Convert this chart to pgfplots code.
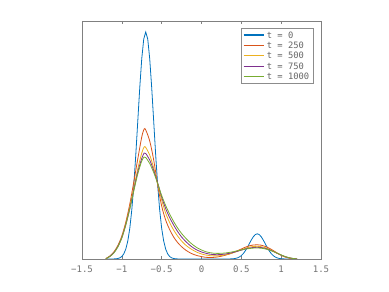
\documentclass[border=0pt]{standalone}
\usepackage{fontspec}
\setmonofont{DejaVu Sans Mono}
\usepackage{pgfplots}
\usepackage{pgfplotstable}
\pgfplotsset{compat=1.18}
\definecolor{mb}{rgb}{0,0.447,0.741}
\definecolor{mo}{rgb}{0.85,0.325,0.098}
\definecolor{my}{rgb}{0.929,0.694,0.125}
\definecolor{mp}{rgb}{0.494,0.184,0.556}
\definecolor{mg}{rgb}{0.466,0.674,0.188}
\definecolor{ax}{gray}{0.5}
\pgfplotstableread{
x blue
-1.2 0
-1.125 0
-1.1 0.08
-1.075 0.2
-1.05 0.5
-1.025 1.16
-1.0 2.5
-0.975 5.2
-0.95 10
-0.925 18.1
-0.9 30.7
-0.875 49.1
-0.85 73.7
-0.825 103.9
-0.8 137.7
-0.775 171.3
-0.75 200.3
-0.725 220
-0.7 227
-0.675 220
-0.65 200.3
-0.625 171.3
-0.6 137.7
-0.575 103.9
-0.55 73.7
-0.525 49.1
-0.5 30.7
-0.475 18.1
-0.45 10
-0.425 5.2
-0.4 2.5
-0.375 1.16
-0.35 0.5
-0.325 0.2
-0.3 0.08
-0.275 0
0.325 0
0.35 0.06
0.375 0.13
0.4 0.28
0.425 0.57
0.45 1.1
0.475 2.0
0.5 3.41
0.525 5.45
0.55 8.2
0.575 11.5
0.6 15.3
0.625 19.0
0.65 22.2
0.675 24.4
0.7 25.2
0.725 24.4
0.75 22.2
0.775 19.0
0.8 15.3
0.825 11.5
0.85 8.2
0.875 5.45
0.9 3.41
0.925 2.0
0.95 1.1
0.975 0.57
1.0 0.28
1.025 0.13
1.05 0.06
1.075 0
1.2 0
}\tzero
\pgfplotstableread{
x o y p g
-1.2 0.4 0.4 0.3 0.3
-1.15 3 2.8 2.6 2.5
-1.1 7 6.8 6.4 6
-1.05 13.5 13 12.5 12
-1.0 23 22 21.5 21
-0.95 37 35.5 34.5 34
-0.9 55 52 50.5 50
-0.85 77 71 69 68
-0.8 100 90 87 85
-0.75 122 106 100.5 98
-0.72 130 112 106 102
-0.7 129 111.5 105.5 101.5
-0.65 118 104 99 95.5
-0.6 99 91 88.5 86.5
-0.55 74 75 76 75.5
-0.5 53 59 62 63.5
-0.45 39 46 50.5 53.5
-0.4 29.5 36.5 41.5 45
-0.35 22 29 34 37.5
-0.3 16.5 23 27.5 31
-0.25 12.3 18 22 25.5
-0.2 9 14 17.7 21
-0.15 6.5 11 14 17
-0.1 4.6 8.5 11 13.7
-0.05 3.3 6.5 8.7 11
0 2.4 5 7 9
0.05 1.7 4 5.8 7.4
0.1 1.5 3.4 4.9 6.4
0.15 1.6 3.1 4.4 5.8
0.2 2 3.1 4.3 5.6
0.25 2.8 3.5 4.5 5.7
0.3 3.8 4.2 5 6
0.35 5 5.1 5.7 6.6
0.4 6.5 6.3 6.6 7.3
0.45 8.2 7.7 7.7 8.2
0.5 10 9.2 8.9 9.1
0.55 11.8 10.6 10 9.9
0.6 13.2 11.8 10.9 10.5
0.65 14 12.5 11.5 10.9
0.7 14.2 12.7 11.7 11
0.75 13.8 12.3 11.4 10.8
0.8 12.6 11.3 10.6 10.1
0.85 10.8 9.8 9.3 9
0.9 8.5 7.8 7.6 7.5
0.95 6 5.7 5.7 5.8
1.0 3.8 3.7 3.9 4.1
1.05 2 2.1 2.3 2.5
1.1 0.9 1 1.2 1.3
1.15 0.3 0.4 0.5 0.5
1.2 0 0 0 0
}\tlater
\begin{document}
\begin{tikzpicture}
\path[use as bounding box] (0,0) rectangle (291.75pt,219pt);
\begin{axis}[
  at={(61.5pt,24.75pt)}, anchor=south west,
  scale only axis, width=179.25pt, height=178.5pt,
  xmin=-1.5, xmax=1.5, ymin=0, ymax=238,
  xtick={-1.5,-1,-0.5,0,0.5,1,1.5},
  xticklabels={−1.5,−1,−0.5,0,0.5,1,1.5},
  ytick=\empty,
  tick align=inside, major tick length=2pt,
  axis line style={ax, line width=0.5pt},
  every tick/.style={ax, line width=0.5pt},
  xtick pos=both,
  xticklabel style={font=\ttfamily\fontsize{6.8}{8}\selectfont, text=black!55, yshift=-1.5pt},
  legend style={at={(rel axis cs:1,1)}, anchor=north east, xshift=-5.6pt, yshift=-5.3pt,
    draw=black!45, line width=0.4pt, fill=white,
    font=\ttfamily\fontsize{6.6}{7.8}\selectfont,
    inner xsep=1pt, inner ysep=1.8pt, row sep=1.4pt,
    nodes={inner ysep=0.8pt, text height=4.8pt, text depth=0pt},
    cells={anchor=west}},
  legend image code/.code={\draw[#1,line width=0.9pt] (0pt,0pt) -- (15pt,0pt);},
  every axis plot/.append style={line width=0.6pt},
]
\addplot[draw=mb] table[x=x,y=blue]{\tzero};
\addlegendentry{\textcolor{black!60}{t = 0}}
\addplot[draw=mo, smooth] table[x=x,y=o]{\tlater};
\addlegendentry{\textcolor{black!60}{t = 250}}
\addplot[draw=my, smooth] table[x=x,y=y]{\tlater};
\addlegendentry{\textcolor{black!60}{t = 500}}
\addplot[draw=mp, smooth] table[x=x,y=p]{\tlater};
\addlegendentry{\textcolor{black!60}{t = 750}}
\addplot[draw=mg, smooth] table[x=x,y=g]{\tlater};
\addlegendentry{\textcolor{black!60}{t = 1000}}
\end{axis}
\end{tikzpicture}
\end{document}
